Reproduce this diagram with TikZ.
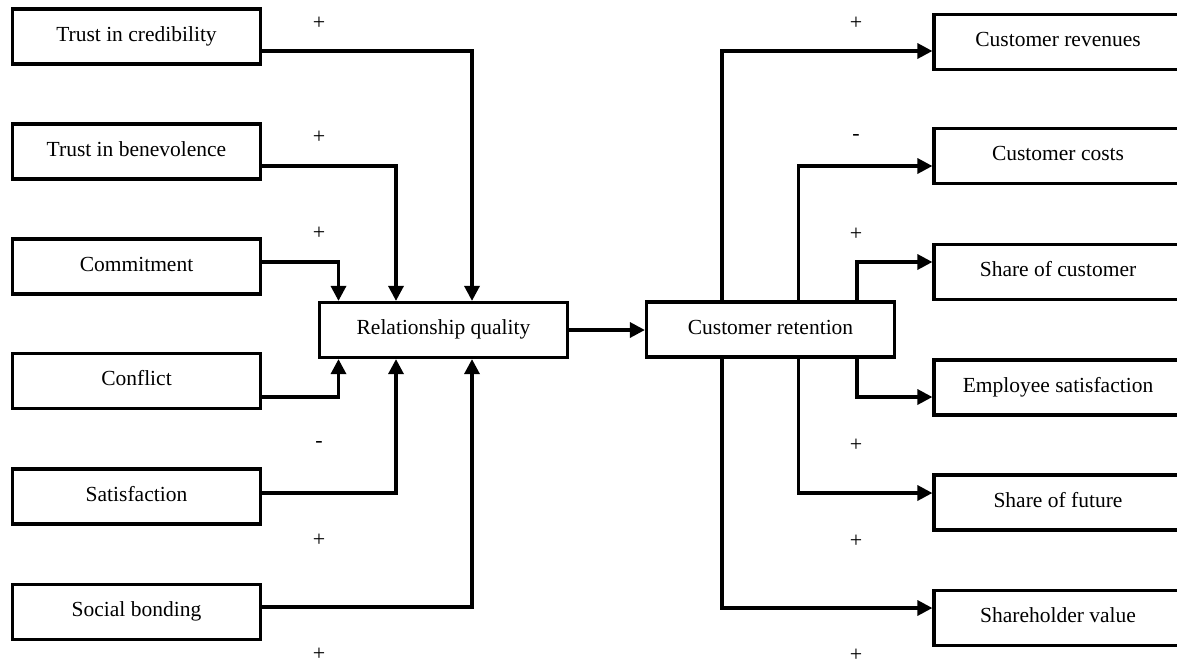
\documentclass[tikz,border=0pt]{standalone}
\usepackage{fontspec}
\setmainfont{Liberation Serif}
\usetikzlibrary{arrows.meta}
\begin{document}
\begin{tikzpicture}[x=1pt,y=-1pt,
  box/.style={draw,line width=3.2pt,minimum width=248pt,minimum height=55pt,inner sep=0pt,
    font=\fontsize{21.5}{25}\selectfont,text height=14pt,text depth=5pt},
  conn/.style={line width=3.3pt,-{Triangle[length=15pt,width=15pt]}},
  sign/.style={font=\fontsize{22}{25}\selectfont,inner sep=0pt}]
\useasboundingbox (0,0) rectangle (1177,665);
\clip (0,0) rectangle (1177,665);
% helper coordinates
\coordinate (y51) at (0,51);
\coordinate (y166) at (0,166);
\coordinate (y262) at (0,262);
\coordinate (y397) at (0,397);
\coordinate (y493) at (0,493);
\coordinate (y607) at (0,607);
\coordinate (y608) at (0,608);
\coordinate (xa) at (338.5,0);
\coordinate (xb) at (396,0);
\coordinate (xc) at (472,0);
\coordinate (xr1) at (722,0);
\coordinate (xr2) at (798.5,0);
\coordinate (xr3) at (857,0);
% left boxes
\node[box] (tc) at (136.5,36.5) {Trust in credibility};
\node[box] (tb) at (136.5,151.5) {Trust in benevolence};
\node[box] (cm) at (136.5,266.5) {Commitment};
\node[box] (cf) at (136.5,381) {Conflict};
\node[box] (sa) at (136.5,496.5) {Satisfaction};
\node[box] (sb) at (136.5,612) {Social bonding};
% centre boxes
\node[box] (rq) at (443.5,330) {Relationship quality};
\node[box] (cr) at (770.5,329.5) {Customer retention};
% right boxes
\node[box] (crev) at (1058,42) {Customer revenues};
\node[box] (ccost) at (1058,156) {Customer costs};
\node[box] (shc) at (1058,272) {Share of customer};
\node[box] (emp) at (1058,387.5) {Employee satisfaction};
\node[box] (shf) at (1058,502.5) {Share of future};
\node[box] (shv) at (1058,618) {Shareholder value};
% left connectors
\draw[conn] (tc.east |- y51) -| (xc |- rq.north);
\draw[conn] (tb.east |- y166) -| (xb |- rq.north);
\draw[conn] (cm.east |- y262) -| (xa |- rq.north);
\draw[conn] (cf.east |- y397) -| (xa |- rq.south);
\draw[conn] (sa.east |- y493) -| (xb |- rq.south);
\draw[conn] (sb.east |- y607) -| (xc |- rq.south);
% middle connector
\draw[conn] (rq.east) -- (cr.west |- rq.east);
% right connectors
\draw[conn] (xr1 |- cr.north) |- (crev.west |- y51);
\draw[conn] (xr2 |- cr.north) |- (ccost.west |- y166);
\draw[conn] (xr3 |- cr.north) |- (shc.west |- y262);
\draw[conn] (xr3 |- cr.south) |- (emp.west |- y397);
\draw[conn] (xr2 |- cr.south) |- (shf.west |- y493);
\draw[conn] (xr1 |- cr.south) |- (shv.west |- y608);
% signs
\node[sign] (s1) at (319,23) {+};
\node[sign] (s2) at (319,137) {+};
\node[sign] (s3) at (319,233) {+};
\node[sign] (s4) at (319,444) {-};
\node[sign] (s5) at (319,540) {+};
\node[sign] (s6) at (319,654) {+};
\node[sign] (r1) at (856,23) {+};
\node[sign] (r2) at (856,137) {-};
\node[sign] (r3) at (856,234) {+};
\node[sign] (r4) at (856,445) {+};
\node[sign] (r5) at (856,541) {+};
\node[sign] (r6) at (856,655) {+};
\end{tikzpicture}
\end{document}
